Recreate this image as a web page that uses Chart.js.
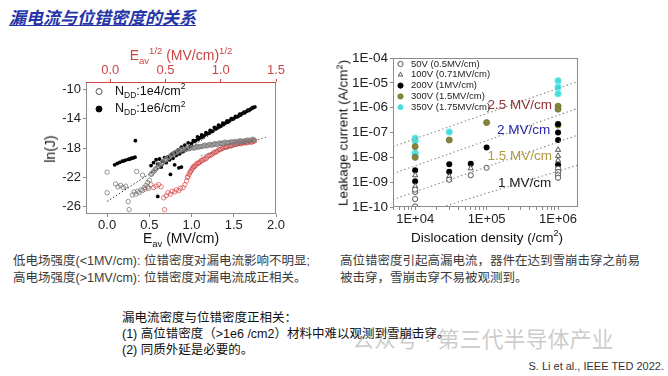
<!DOCTYPE html>
<html>
<head>
<meta charset="utf-8">
<script src="https://cdn.jsdelivr.net/npm/chart.js@4.4.1/dist/chart.umd.min.js"></script>
<style>
  body { margin: 0; background: #fff; }
  #slide { position: relative; width: 668px; height: 376px; overflow: hidden; background: #fff;
           font-family: "Liberation Sans", "Noto Sans CJK SC", sans-serif; }
  .abs { position: absolute; white-space: nowrap; }
  .c { transform: translate(-50%, -50%); }
  .rot { transform: translate(-50%, -50%) rotate(-90deg); }
  sub, sup { font-size: 0.68em; line-height: 0; }
  canvas { position: absolute; top: 0; }
</style>
</head>
<body>
<div id="slide">
  <div class="abs" style="left:9px;top:4px;font-size:17px;font-weight:bold;font-style:italic;color:#2535a8;text-decoration:underline;">漏电流与位错密度的关系</div>

  <canvas id="leftChart" width="334" height="250" style="left:0"></canvas>
  <canvas id="rightChart" width="334" height="250" style="left:334px"></canvas>

  <!-- axis titles -->
  <div class="abs c" style="left:181px;top:55px;font-size:14px;color:#c94545;">E<sub>av</sub><sup>1/2</sup> (MV/cm)<sup>1/2</sup></div>
  <div class="abs c" style="left:181px;top:238px;font-size:14px;color:#111;">E<sub>av</sub> (MV/cm)</div>
  <div class="abs rot" style="left:50px;top:149px;font-size:14px;color:#111;">ln(J)</div>
  <div class="abs rot" style="left:343px;top:133px;font-size:13.5px;color:#111;">Leakage current (A/cm<sup>2</sup>)</div>
  <div class="abs c" style="left:487px;top:237px;font-size:13.5px;color:#111;">Dislocation density (/cm<sup>2</sup>)</div>

  <!-- notes -->
  <div class="abs" style="left:13px;top:253px;font-size:12.5px;line-height:17px;color:#3a3a3a;">低电场强度(&lt;1MV/cm): 位错密度对漏电流影响不明显;<br>高电场强度(&gt;1MV/cm): 位错密度对漏电流成正相关。</div>
  <div class="abs" style="left:340px;top:253px;font-size:12.5px;line-height:17px;color:#3a3a3a;">高位错密度引起高漏电流，器件在达到雪崩击穿之前易<br>被击穿，雪崩击穿不易被观测到。</div>
  <div class="abs" style="left:352px;top:321px;font-size:22px;color:rgba(140,140,140,0.45);">公众号 · 第三代半导体产业</div>
  <div class="abs" style="left:122px;top:310px;font-size:12.5px;line-height:16px;color:#111;">漏电流密度与位错密度正相关：<br>(1) 高位错密度（&gt;1e6 /cm2）材料中难以观测到雪崩击穿。<br>(2) 同质外延是必要的。</div>
  <div class="abs" style="right:4px;top:360px;font-size:11px;color:#333;">S. Li et al., IEEE TED 2022.</div>
</div>

<script>
// ---------- left chart: ln(J) vs E_av ----------
const leftXTicks = [0, 0.5, 1.0, 1.5, 2.0];
const leftYTicks = [-10, -14, -18, -22, -26];
const topTicks = [0, 0.5, 1.0, 1.5];
const leftNames = ['1e4', '1e6'];

// N_DD 1e4/cm2, open grey circles
const e4X = [0.0, 0.0, 0.10, 0.13, 0.16, 0.19, 0.22, 0.25, 0.26, 0.30, 0.32, 0.34, 0.35, 0.36, 0.38, 0.40, 0.42, 0.42, 0.44, 0.46, 0.48, 0.49, 0.50,
  0.52, 0.54, 0.56, 0.58, 0.60, 0.62, 0.64, 0.66, 0.68, 0.70, 0.72, 0.74, 0.76, 0.78, 0.80, 0.82, 0.84,
  0.87, 0.90, 0.93, 0.96, 0.99, 1.02, 1.05, 1.08, 1.11, 1.14, 1.17, 1.20, 1.23, 1.26, 1.29, 1.32, 1.35, 1.38, 1.41, 1.44,
  1.47, 1.50, 1.53, 1.56, 1.59, 1.62, 1.65, 1.68, 1.71, 1.74,
  0.53, 0.57, 0.61, 0.65, 0.69, 0.73, 0.77, 0.81, 0.85,
  0.885, 0.915, 0.945, 0.975, 1.005, 1.035, 1.065, 1.095, 1.125, 1.155, 1.185, 1.215, 1.245, 1.275, 1.305,
  1.335, 1.365, 1.395, 1.425, 1.455, 1.485, 1.515, 1.545, 1.575, 1.605, 1.635, 1.665, 1.695, 1.725];
const e4Y = [-24.1, -21.3, -22.9, -23.3, -23.1, -23.4, -23.2, -25.3, -26.4, -24.4, -24.0, -24.3, -21.2, -23.9, -24.1, -23.7, -23.8, -21.7, -23.4, -23.1, -22.7, -23.5, -22.4,
  -21.6, -21.3, -21.1, -20.8, -20.6, -20.3, -20.2, -19.9, -19.7, -19.5, -19.3, -19.2, -19.0, -18.8, -18.7, -18.6, -18.4,
  -18.3, -18.2, -18.2, -18.1, -18.0, -18.0, -17.9, -17.9, -17.8, -17.7, -17.7, -17.6, -17.6, -17.5, -17.5, -17.4, -17.4, -17.3, -17.3, -17.3,
  -17.2, -17.2, -17.2, -17.1, -17.1, -17.1, -17.0, -17.0, -16.9, -16.9,
  -21.5, -20.9, -20.5, -20.0, -19.6, -19.3, -18.9, -18.6, -18.4,
  -18.2, -18.3, -18.1, -18.1, -17.9, -18.0, -17.8, -17.8, -17.8, -17.6, -17.7, -17.5, -17.6, -17.4, -17.5,
  -17.3, -17.4, -17.2, -17.3, -17.2, -17.2, -17.1, -17.2, -17.0, -17.1, -17.0, -16.9, -17.0, -16.8];

// red open circles
const redX = [0.45, 0.48, 0.52, 0.55, 0.58, 0.61, 0.64, 0.67, 0.68, 0.70, 0.72, 0.75, 0.77, 0.80, 0.82, 0.85, 0.87, 0.90, 0.92, 0.94,
  0.95, 0.97, 0.99, 1.01, 1.03, 1.05, 1.08, 1.10, 1.13, 1.16, 1.19, 1.22, 1.25, 1.28, 1.31, 1.34, 1.37, 1.40, 1.43, 1.46,
  1.49, 1.52, 1.55, 1.58, 1.61, 1.64, 1.67, 1.70, 1.73, 1.75,
  0.96, 0.98, 1.00, 1.02, 1.04, 1.065, 1.09, 1.115, 1.145, 1.175, 1.205, 1.235, 1.265, 1.295, 1.325,
  1.355, 1.385, 1.415, 1.445, 1.475, 1.505, 1.535, 1.565, 1.595, 1.625, 1.655, 1.685, 1.715, 1.74];
const redY = [-23.6, -23.3, -23.0, -23.4, -23.2, -23.0, -23.3, -24.8, -26.4, -24.5, -24.1, -24.3, -23.9, -24.0, -23.7, -23.8, -23.5, -23.4, -23.0, -22.5,
  -22.0, -21.6, -21.2, -20.8, -20.5, -20.3, -20.1, -19.9, -19.7, -19.5, -19.2, -19.0, -18.8, -18.6, -18.4, -18.2, -18.0, -17.9, -17.8, -17.7,
  -17.6, -17.5, -17.4, -17.4, -17.3, -17.3, -17.2, -17.2, -17.1, -17.0,
  -21.9, -21.3, -21.0, -20.6, -20.5, -20.1, -20.0, -19.7, -19.5, -19.4, -19.0, -18.9, -18.6, -18.5, -18.2,
  -18.1, -17.9, -17.9, -17.7, -17.7, -17.5, -17.5, -17.3, -17.4, -17.2, -17.3, -17.1, -17.2, -17.0];

// N_DD 1e6/cm2, filled black circles
const e6X = [0.09, 0.12, 0.15, 0.18, 0.20, 0.22, 0.25, 0.27, 0.29, 0.31, 0.33, 0.335, 0.60, 0.75,
  0.52, 0.55, 0.58, 0.60, 0.62, 0.64, 0.66, 0.68, 0.70, 0.72, 0.74, 0.76, 0.78, 0.80, 0.80, 0.82, 0.84, 0.85, 0.86, 0.88, 0.88,
  0.90, 0.92, 0.94, 0.96, 0.98,
  1.00, 1.03, 1.05, 1.08, 1.10, 1.13, 1.15, 1.18, 1.20, 1.23, 1.25, 1.28, 1.30, 1.33, 1.35, 1.38, 1.40, 1.43, 1.45, 1.48,
  1.50, 1.53, 1.55, 1.58, 1.60, 1.63, 1.65, 1.68, 1.70, 1.73, 1.75,
  1.02, 1.07, 1.12, 1.17, 1.22, 1.27, 1.32, 1.37, 1.42, 1.47, 1.52, 1.57, 1.62, 1.67, 1.72];
const e6Y = [-20.3, -20.1, -19.95, -19.8, -19.75, -19.65, -19.55, -19.5, -19.4, -19.35, -19.25, -17.0, -24.6, -21.6,
  -20.4, -20.0, -19.6, -20.2, -19.5, -20.6, -19.8, -19.3, -20.0, -19.2, -19.6, -18.9, -19.4, -18.6, -20.3, -19.0, -18.3, -20.7, -18.8, -17.9, -20.6,
  -18.5, -17.6, -18.2, -17.3, -17.8,
  -17.4, -17.1, -17.0, -16.8, -16.6, -16.5, -16.3, -16.1, -16.0, -15.8, -15.7, -15.4, -15.3, -15.1, -15.0, -14.8, -14.6, -14.5, -14.3, -14.1,
  -14.0, -13.8, -13.7, -13.5, -13.3, -13.2, -13.0, -12.9, -12.7, -12.5, -12.4,
  -17.0, -16.5, -16.2, -15.9, -15.6, -15.2, -14.9, -14.6, -14.3, -14.0, -13.7, -13.4, -13.1, -12.8, -12.5];

// dotted fit lines
const fitAX = [0.0, 1.75], fitAY = [-25.3, -12.2];
const fitBX = [1.11, 1.89], fitBY = [-19.1, -16.5];

// ---------- right chart: leakage vs dislocation density ----------
const voltageNames = ['50V (0.5MV/cm)', '100V (0.71MV/cm)', '200V (1MV/cm)', '300V (1.5MV/cm)', '350V (1.75MV/cm)'];
const rightXTicks = [5e3, 6e3, 7e3, 8e3, 9e3, 1e4, 2e4, 3e4, 4e4, 5e4, 6e4, 7e4, 8e4, 9e4,
  1e5, 2e5, 3e5, 4e5, 5e5, 6e5, 7e5, 8e5, 9e5, 1e6];
const rightYTicks = [1e-10, 1e-9, 1e-8, 1e-7, 1e-6, 1e-5, 1e-4];

const v50X = [1e4, 1e4, 1e4, 1e4, 3e4, 6e4, 1e5, 1e6, 1e6, 1e6, 1e6];
const v50Y = [1.05e-10, 2.1e-10, 4e-10, 5e-10, 1.25e-9, 1.9e-9, 3.8e-9, 3.5e-9, 2.6e-9, 1.9e-9, 1.5e-9];
const v100X = [1e4, 1e4, 1e4, 3e4, 3e4, 6e4, 1e6, 1e6, 1e6];
const v100Y = [1.9e-9, 6.8e-10, 4.4e-10, 1.7e-9, 1.25e-9, 3.6e-9, 2.0e-8, 1.15e-8, 7.5e-9];
const v200X = [1e4, 1e4, 3e4, 3e4, 6e4, 1e5, 1e6, 1e6, 1e6, 1e6];
const v200Y = [3e-9, 1.1e-9, 5.3e-9, 2.6e-9, 5.5e-9, 2.5e-8, 2.2e-7, 1.0e-7, 5e-8, 5e-9];
const v300X = [1e4, 1e4, 3e4, 1e5, 1e6, 1e6, 1e6];
const v300Y = [2.7e-8, 1.0e-8, 5e-8, 2.5e-7, 1.15e-6, 8.7e-7, 2.0e-7];
const v350X = [1e4, 1e4, 1e4, 1e4, 3e4, 1e6, 1e6, 1e6];
const v350Y = [5.8e-8, 4.5e-8, 1.5e-8, 1.3e-8, 1.05e-7, 1.2e-5, 6.7e-6, 3.6e-6];

// iso-field dotted guide lines
const fieldNames = ['2.5 MV/cm', '2 MV/cm', '1.5 MV/cm', '1 MV/cm'];
const guide25X = [4.9e3, 1.9e6], guide25Y = [2.7e-8, 1.15e-5];
const guide20X = [4.9e3, 1.9e6], guide20Y = [2.2e-9, 9.5e-7];
const guide15X = [4.9e3, 1.9e6], guide15Y = [2.0e-10, 7.9e-8];
const guide10X = [2.4e4, 1.9e6], guide10Y = [1e-10, 4.9e-9];

const zip = (xs, ys) => xs.map((x, i) => ({ x: x, y: ys[i] }));

Chart.defaults.font.family = '"Liberation Sans", Arial, sans-serif';
Chart.defaults.color = '#222';

const RED = '#cc4646';
const BOX = '#8c8c8c';

function drawRich(ctx, parts, x, y, size, color) {
  let cx = x;
  ctx.fillStyle = color;
  ctx.textBaseline = 'middle';
  ctx.textAlign = 'left';
  parts.forEach(p => {
    const fs = p[1] === 'n' ? size : size * 0.68;
    const dy = p[1] === 'sub' ? size * 0.3 : (p[1] === 'sup' ? -size * 0.35 : 0);
    ctx.font = fs + 'px "Liberation Sans", Arial, sans-serif';
    ctx.fillText(p[0], cx, y + dy);
    cx += ctx.measureText(p[0]).width;
  });
}

function marker(ctx, kind, x, y, r, stroke, fill) {
  ctx.beginPath();
  if (kind === 'triangle') {
    ctx.moveTo(x, y - r);
    ctx.lineTo(x - r * 0.87, y + r * 0.5);
    ctx.lineTo(x + r * 0.87, y + r * 0.5);
    ctx.closePath();
  } else {
    ctx.arc(x, y, r, 0, Math.PI * 2);
  }
  if (fill) { ctx.fillStyle = fill; ctx.fill(); }
  ctx.strokeStyle = stroke;
  ctx.lineWidth = 1;
  ctx.stroke();
}

const leftDecor = {
  id: 'leftDecor',
  afterDraw(chart) {
    const { ctx, chartArea: a } = chart;
    ctx.save();
    ctx.strokeStyle = BOX;
    ctx.lineWidth = 1;
    ctx.strokeRect(a.left + 0.5, a.top + 0.5, a.width - 1, a.height - 1);
    ctx.strokeStyle = RED;
    ctx.beginPath();
    ctx.moveTo(a.left, a.top + 0.5);
    ctx.lineTo(a.right, a.top + 0.5);
    ctx.stroke();
    // legend
    marker(ctx, 'circle', a.left + 13, a.top + 9.5, 3, '#555', '#fff');
    drawRich(ctx, [['N', 'n'], ['DD', 'sub'], [':' + leftNames[0] + '/cm', 'n'], ['2', 'sup']], a.left + 29, a.top + 9.5, 12.5, '#111');
    marker(ctx, 'circle', a.left + 13, a.top + 27, 3, '#000', '#000');
    drawRich(ctx, [['N', 'n'], ['DD', 'sub'], [':' + leftNames[1] + '/cm', 'n'], ['2', 'sup']], a.left + 29, a.top + 27, 12.5, '#111');
    ctx.restore();
  }
};

new Chart(document.getElementById('leftChart'), {
  type: 'scatter',
  data: {
    datasets: [
      { data: zip(fitAX, fitAY), showLine: true, borderColor: '#333', borderWidth: 1, borderDash: [1.5, 2], pointRadius: 0 },
      { data: zip(fitBX, fitBY), showLine: true, borderColor: '#666', borderWidth: 1, borderDash: [1.5, 2], pointRadius: 0 },
      { data: zip(e4X, e4Y), pointRadius: 2.2, borderWidth: 0.8, borderColor: '#7a7a7a', backgroundColor: 'rgba(255,255,255,0)' },
      { data: zip(redX, redY), pointRadius: 2.2, borderWidth: 0.8, borderColor: 'rgba(210,60,60,0.8)', backgroundColor: 'rgba(255,255,255,0)' },
      { data: zip(e6X, e6Y), pointRadius: 1.9, borderWidth: 0, borderColor: '#000', backgroundColor: '#000' }
    ]
  },
  options: {
    responsive: false,
    animation: false,
    layout: { padding: { left: 0, right: 58, top: 0, bottom: 0 } },
    plugins: { legend: { display: false }, tooltip: { enabled: false } },
    scales: {
      x: {
        type: 'linear', position: 'bottom', min: -0.25, max: 2.0,
        afterBuildTicks: s => { s.ticks = leftXTicks.map(v => ({ value: v })); },
        afterFit: s => { s.height = 36; },
        ticks: { autoSkip: false, maxRotation: 0, padding: 1, font: { size: 13 }, callback: v => v.toFixed(1) },
        grid: { drawOnChartArea: false, tickLength: 3, color: BOX },
        border: { display: false }
      },
      x2: {
        type: 'linear', position: 'top', min: -0.22, max: 1.5,
        afterBuildTicks: s => { s.ticks = topTicks.map(v => ({ value: v })); },
        afterFit: s => { s.height = 82; },
        ticks: { autoSkip: false, maxRotation: 0, padding: 1, color: RED, font: { size: 13 }, callback: v => v.toFixed(1) },
        grid: { drawOnChartArea: false, tickLength: 3, color: RED },
        border: { display: false }
      },
      y: {
        type: 'linear', min: -27, max: -9,
        afterBuildTicks: s => { s.ticks = leftYTicks.map(v => ({ value: v })); },
        afterFit: s => { s.width = 86; },
        ticks: { autoSkip: false, padding: 2, font: { size: 13 }, callback: v => String(v) },
        grid: { drawOnChartArea: false, tickLength: 3, color: BOX },
        border: { display: false }
      }
    }
  },
  plugins: [leftDecor]
});

// ---------- right chart ----------
const fieldLabels = [
  { text: fieldNames[0], x: 2.9e5, y: 1.3e-6, color: '#8e3434' },
  { text: fieldNames[1], x: 3.3e5, y: 1.2e-7, color: '#2a2aa8' },
  { text: fieldNames[2], x: 2.9e5, y: 1.1e-8, color: '#b09a3c' },
  { text: fieldNames[3], x: 3.4e5, y: 9e-10, color: '#222' }
];
const legendMarks = [
  ['circle', '#555', '#fff'],
  ['triangle', '#555', '#fff'],
  ['circle', '#000', '#000'],
  ['circle', '#7c7b36', '#85843c'],
  ['circle', '#5fe6e6', '#45dcdc']
];

const rightDecor = {
  id: 'rightDecor',
  afterDraw(chart) {
    const { ctx, chartArea: a, scales } = chart;
    ctx.save();
    ctx.strokeStyle = BOX;
    ctx.lineWidth = 1;
    ctx.strokeRect(a.left + 0.5, a.top + 0.5, a.width - 1, a.height - 1);
    ctx.font = '13.5px "Liberation Sans", Arial, sans-serif';
    ctx.textAlign = 'center';
    ctx.textBaseline = 'middle';
    fieldLabels.forEach(l => {
      ctx.fillStyle = l.color;
      ctx.fillText(l.text, scales.x.getPixelForValue(l.x), scales.y.getPixelForValue(l.y));
    });
    voltageNames.forEach((name, i) => {
      const y = a.top + 6 + i * 10.8;
      const m = legendMarks[i];
      marker(ctx, m[0], a.left + 7.5, y, 2.6, m[1], m[2]);
      ctx.fillStyle = '#222';
      ctx.font = '9.5px "Liberation Sans", Arial, sans-serif';
      ctx.textAlign = 'left';
      ctx.fillText(name, a.left + 18, y);
    });
    ctx.restore();
  }
};

const guide = (xs, ys) => ({ data: zip(xs, ys), showLine: true, borderColor: '#8a8a8a', borderWidth: 1.1, borderDash: [1.5, 2.5], pointRadius: 0 });
const majorLog = v => Math.abs(Math.log10(v) - Math.round(Math.log10(v))) < 1e-6;
const pad2 = n => String(Math.abs(n)).padStart(2, '0');

new Chart(document.getElementById('rightChart'), {
  type: 'scatter',
  data: {
    datasets: [
      guide(guide25X, guide25Y),
      guide(guide20X, guide20Y),
      guide(guide15X, guide15Y),
      guide(guide10X, guide10Y),
      { data: zip(v50X, v50Y), pointRadius: 2.6, borderWidth: 1, borderColor: '#555', backgroundColor: '#fff' },
      { data: zip(v100X, v100Y), pointStyle: 'triangle', pointRadius: 3, borderWidth: 1, borderColor: '#555', backgroundColor: '#fff' },
      { data: zip(v200X, v200Y), pointRadius: 3, borderWidth: 0, backgroundColor: '#000' },
      { data: zip(v300X, v300Y), pointRadius: 3, borderWidth: 1, borderColor: '#7c7b36', backgroundColor: '#85843c' },
      { data: zip(v350X, v350Y), pointRadius: 3, borderWidth: 1.5, borderColor: 'rgba(95,230,230,0.6)', backgroundColor: '#45dcdc' }
    ]
  },
  options: {
    responsive: false,
    animation: false,
    layout: { padding: { left: 0, right: 90, top: 58, bottom: 0 } },
    plugins: { legend: { display: false }, tooltip: { enabled: false } },
    scales: {
      x: {
        type: 'logarithmic', position: 'bottom', min: 4.9e3, max: 1.9e6,
        afterBuildTicks: s => { s.ticks = rightXTicks.map(v => ({ value: v })); },
        afterFit: s => { s.height = 43; },
        ticks: { autoSkip: false, maxRotation: 0, padding: 2, font: { size: 13 },
                 callback: v => majorLog(v) ? '1E+' + pad2(Math.round(Math.log10(v))) : '' },
        grid: { drawOnChartArea: false, tickLength: 3, color: BOX },
        border: { display: false }
      },
      y: {
        type: 'logarithmic', min: 1e-10, max: 1e-4,
        afterBuildTicks: s => { s.ticks = rightYTicks.map(v => ({ value: v })); },
        afterFit: s => { s.width = 59; },
        ticks: { autoSkip: false, padding: 2, font: { size: 13.5 },
                 callback: v => '1E-' + pad2(Math.round(Math.log10(v))) },
        grid: { drawOnChartArea: false, tickLength: 3, color: BOX },
        border: { display: false }
      }
    }
  },
  plugins: [rightDecor]
});
</script>
</body>
</html>
